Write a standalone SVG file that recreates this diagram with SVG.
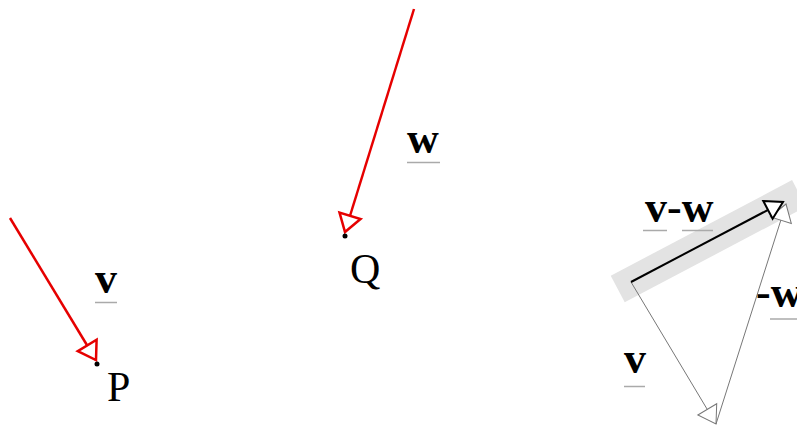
<svg xmlns="http://www.w3.org/2000/svg" width="797" height="426" viewBox="0 0 797 426">
<style>
.lbl{font-family:"Liberation Serif","Times New Roman",serif;font-weight:bold;font-size:44px;fill:#000}
.pt{font-family:"Liberation Serif","Times New Roman",serif;font-size:42px;fill:#000}
.ul{stroke:#aaa;stroke-width:1.5}
.red{stroke:#e60000;stroke-width:2.5;fill:none}
.thin{stroke:#777;stroke-width:1;fill:none}
.blk{stroke:#000;stroke-width:2;fill:none}
</style>
<defs>
<marker id="mRed" markerUnits="userSpaceOnUse" viewBox="-2 -14 22 28" markerWidth="22" markerHeight="28" refX="17" refY="0" orient="auto">
<path d="M0,-11 L17,0 L0,11 Z" fill="#fff" stroke="#e60000" stroke-width="2.5"/>
</marker>
<marker id="mBlk" markerUnits="userSpaceOnUse" viewBox="-2 -13 22 26" markerWidth="22" markerHeight="26" refX="17" refY="0" orient="auto">
<path d="M0,-10 L17,0 L0,10 Z" fill="#fff" stroke="#000" stroke-width="2"/>
</marker>
<marker id="mGry" markerUnits="userSpaceOnUse" viewBox="-2 -14 22 28" markerWidth="22" markerHeight="28" refX="17" refY="0" orient="auto">
<path d="M0,-11 L17,0 L0,11 Z" fill="#fff" stroke="#777" stroke-width="1"/>
</marker>
</defs>
<rect width="797" height="426" fill="#fff"/>
<g id="band">
<rect x="-15" y="-15" width="205" height="30" fill="#e3e3e3" transform="translate(631,282) rotate(-27.8)"/>
</g>
<g id="connectors">
<line class="red" x1="10" y1="218" x2="96" y2="360" marker-end="url(#mRed)"/>
<line class="red" x1="414" y1="9" x2="345" y2="232" marker-end="url(#mRed)"/>
<line class="thin" x1="631" y1="282" x2="716" y2="424" marker-end="url(#mGry)"/>
<line class="thin" x1="716" y1="424" x2="786" y2="204" marker-end="url(#mGry)"/>
<line class="blk" x1="631" y1="282" x2="783" y2="202" marker-end="url(#mBlk)"/>
</g>
<g id="P">
<circle cx="97" cy="364" r="2.5" fill="#000"/>
<text class="pt" x="107" y="401">P</text>
</g>
<g id="Q">
<circle cx="345" cy="236" r="2.5" fill="#000"/>
<text class="pt" x="350" y="283">Q</text>
</g>
<g id="label-v-left">
<text class="lbl" x="95" y="293">v</text>
<line class="ul" x1="95" y1="302.5" x2="117" y2="302.5"/>
</g>
<g id="label-w">
<text class="lbl" x="407" y="153">w</text>
<line class="ul" x1="407" y1="162.5" x2="440" y2="162.5"/>
</g>
<g id="label-v-minus-w">
<text class="lbl" x="645" y="222">v-w</text>
<line class="ul" x1="643" y1="230.5" x2="667" y2="230.5"/>
<line class="ul" x1="682" y1="230.5" x2="713" y2="230.5"/>
</g>
<g id="label-minus-w">
<text class="lbl" x="756" y="307">-w</text>
<line class="ul" x1="770" y1="319" x2="797" y2="319"/>
</g>
<g id="label-v-right">
<text class="lbl" x="624" y="373">v</text>
<line class="ul" x1="624" y1="386.5" x2="645" y2="386.5"/>
</g>
</svg>
